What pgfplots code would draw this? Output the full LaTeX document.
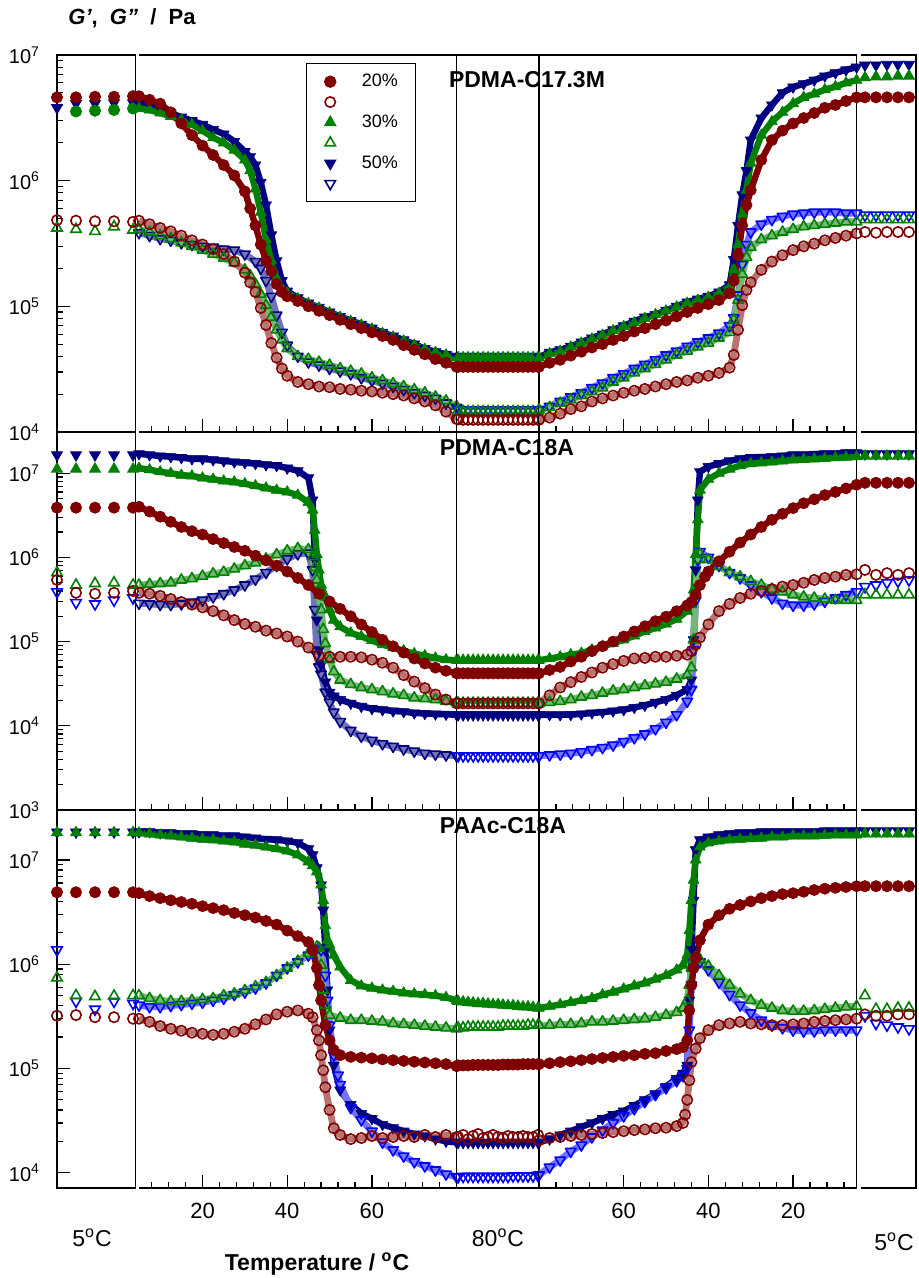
\documentclass[border=0pt]{standalone}
\usepackage{fontspec}
\setmainfont{Liberation Sans}
\usepackage{pgfplots}
\pgfplotsset{compat=1.18}
\definecolor{dred}{RGB}{128,0,0}
\definecolor{dgreen}{RGB}{0,128,0}
\definecolor{dnavy}{RGB}{0,0,128}
\definecolor{lblue}{RGB}{0,0,255}
\pgfplotsset{
  mybase/.style={scale only axis, anchor=south west, axis line style={line width=0.6pt}, tick style={line width=0.6pt, black}, major tick length=6.5pt, minor tick length=3.2pt, tick align=inside, ticklabel style={font=\fontsize{10}{12}\selectfont}},
  noleft/.style={axis line style={draw=none}, after end axis/.code={\draw[line width=0.6pt,black] (rel axis cs:0,0) -- (rel axis cs:1,0) -- (rel axis cs:1,1) -- (rel axis cs:0,1);}},
  mypA/.style={ymin=1e4, ymax=1e7, height=188.5pt},
  mypB/.style={ymin=1e3, ymax=3.09e7, height=189pt},
  mypC/.style={ymin=7.13e3, ymax=2.97e7, height=188.65pt},
  mysegL/.style={mybase, xmin=0, xmax=4.14, width=39.35pt, xmajorticks=false, xminorticks=false, ytick pos=left, yticklabel style={xshift=-5pt}},
  mysegX/.style={mybase, xmin=5, xmax=80, width=158.8pt, ymajorticks=false, yminorticks=false, xtick pos=bottom, xtick={20,40,60}, minor xtick={8,12,16,24,28,32,36,44,48,52,56,64,68,72,76}, xticklabels={}, xticklabel style={font=\fontsize{11}{13}\selectfont, yshift=-4pt}},
  mysegH/.style={mysegX, noleft},
  mysegC/.style={mysegX, x dir=reverse},
  mysegM/.style={mybase, xmin=-0.3, xmax=16.2, width=41.2pt, xmajorticks=false, xminorticks=false, ymajorticks=false, yminorticks=false},
  mysegR/.style={mybase, noleft, xmin=-0.36, xmax=4.64, width=27.5pt, xmajorticks=false, xminorticks=false, ymajorticks=false, yminorticks=false},
  sFRi/.style={only marks, mark=*, mark size=2.8pt, color=dred},
  sFGi/.style={only marks, mark=triangle*, mark size=3.15pt, color=dgreen},
  sFBi/.style={only marks, mark=triangle*, mark size=3.15pt, color=dnavy, mark options={rotate=180}},
  sORi/.style={only marks, mark=o, mark size=2.6pt, color=dred, mark options={line width=0.8pt}},
  sOGi/.style={only marks, mark=triangle, mark size=3pt, color=dgreen, mark options={line width=0.8pt}},
  sOBi/.style={only marks, mark=triangle, mark size=3pt, color=lblue, mark options={rotate=180, line width=0.8pt}},
  sFR/.style={mark=*, mark size=2.8pt, color=dred, line width=3.2pt, line join=round, mark options={line width=0.3pt}},
  sFG/.style={mark=triangle*, mark size=3.15pt, color=dgreen, line width=3.2pt, line join=round, mark options={line width=0.3pt}},
  sFB/.style={mark=triangle*, mark size=3.15pt, color=dnavy, line width=3.2pt, line join=round, mark options={rotate=180, line width=0.3pt}},
  sOR/.style={mark=o, mark size=2.6pt, draw=dred!55, line width=3.4pt, line join=round, mark options={draw=dred, line width=0.8pt}},
  sOG/.style={mark=triangle, mark size=3pt, draw=dgreen!55, line width=3.4pt, line join=round, mark options={draw=dgreen, line width=0.8pt}},
  sOB/.style={mark=triangle, mark size=3pt, draw=lblue!55, line width=3.4pt, line join=round, mark options={rotate=180, draw=lblue, line width=0.8pt}},
  sOBn/.style={mark=triangle, mark size=3pt, draw=dnavy!55, line width=3.4pt, line join=round, mark options={rotate=180, draw=dnavy, line width=0.8pt}},
}
\begin{document}
\begin{tikzpicture}
\path[use as bounding box] (0,0) rectangle (459pt,639pt);
%%%%%%%%%%%%%%%% PANEL 1
\begin{semilogyaxis}[mysegL, mypA, at={(28.5pt,423pt)}, ytick={1e4,1e5,1e6,1e7}, yticklabels={10\textsuperscript{4},10\textsuperscript{5},10\textsuperscript{6},10\textsuperscript{7}}]
\addplot[sFBi] coordinates {(0,3.8e6)(1,4.1e6)(2,4.1e6)(3,4.15e6)(4,4.15e6)};
\addplot[sFRi,color=dgreen] coordinates {(1,3.55e6)(2,3.6e6)(3,3.65e6)(4,3.75e6)};
\addplot[sOGi] coordinates {(0,4.2e5)(1,4.1e5)(2,3.95e5)(3,4.3e5)(4,4.05e5)};
\addplot[sFRi] coordinates {(0,4.6e6)(1,4.6e6)(2,4.65e6)(3,4.65e6)(4,4.7e6)};
\addplot[sORi] coordinates {(0,4.85e5)(1,4.8e5)(2,4.75e5)(3,4.75e5)(4,4.7e5)};
\end{semilogyaxis}
\begin{semilogyaxis}[mysegH, mypA, at={(69.5pt,423pt)},
  legend style={at={(0.526,0.979)}, anchor=north west, draw=black, line width=0.6pt, fill=white, font=\fontsize{9}{9}\selectfont, inner xsep=9pt, inner ysep=4pt, row sep=0pt, column sep=12pt, nodes={inner sep=1pt, text height=6.6pt, text depth=1.6pt, text width=17pt, align=left}}, legend cell align=left]
\addlegendimage{sFRi}\addlegendentry{20\%}
\addlegendimage{sORi}\addlegendentry{~}
\addlegendimage{sFGi}\addlegendentry{30\%}
\addlegendimage{sOGi}\addlegendentry{~}
\addlegendimage{sFBi}\addlegendentry{50\%}
\addlegendimage{sOBi,color=dnavy}\addlegendentry{~}
\addplot[sFB,forget plot] coordinates {(5,4.15e6)(7.5,4.0e6)(10,3.75e6)(12.5,3.45e6)(15,3.2e6)(17.5,3.0e6)(20,2.8e6)(22.5,2.55e6)(25,2.35e6)(27.5,2.05e6)(30,1.7e6)(31.25,1.55e6)(32.5,1.33e6)(33.75,9.7e5)(35,6.4e5)(36.25,3.7e5)(37.5,2.3e5)(38.75,1.6e5)(40,1.32e5)(42.5,1.17e5)(45,1.06e5)(47.5,9.8e4)(50,9.0e4)(52.5,8.3e4)(55,7.7e4)(57.5,7.2e4)(60,6.7e4)(62.5,6.2e4)(65,5.8e4)(67.5,5.4e4)(70,5.0e4)(72.5,4.6e4)(75,4.35e4)(77.5,4.15e4)(80,3.95e4)};
\addplot[sOBn,forget plot] coordinates {(5,3.85e5)(7.5,3.65e5)(10,3.45e5)(12.5,3.35e5)(15,3.2e5)(17.5,3.1e5)(20,3.0e5)(22.5,2.95e5)(25,2.85e5)(27.5,2.8e5)(30,2.6e5)(32.5,2.27e5)(33.75,2.0e5)(35,1.6e5)(36.25,1.2e5)(37.5,8.5e4)(38.75,6.2e4)(40,4.9e4)(42.5,4.0e4)(45,3.6e4)(47.5,3.4e4)(50,3.2e4)(52.5,3.05e4)(55,2.9e4)(57.5,2.7e4)(60,2.57e4)(62.5,2.43e4)(65,2.3e4)(67.5,2.17e4)(70,2.05e4)(72.5,1.95e4)(75,1.85e4)(77.5,1.7e4)(80,1.57e4)};
\addplot[sFG,forget plot] coordinates {(5,3.75e6)(7.5,3.65e6)(10,3.45e6)(12.5,3.25e6)(15,3.05e6)(17.5,2.8e6)(20,2.5e6)(22.5,2.2e6)(25,2.0e6)(27.5,1.75e6)(30,1.46e6)(31.25,1.2e6)(32.5,8.6e5)(33.75,5.6e5)(35,3.4e5)(36.25,2.3e5)(37.5,1.66e5)(38.75,1.38e5)(40,1.28e5)(42.5,1.15e5)(45,1.05e5)(47.5,9.7e4)(50,8.9e4)(52.5,8.2e4)(55,7.6e4)(57.5,7.1e4)(60,6.6e4)(62.5,6.1e4)(65,5.7e4)(67.5,5.3e4)(70,4.9e4)(72.5,4.55e4)(75,4.3e4)(77.5,4.1e4)(80,3.9e4)};
\addplot[sOG,forget plot] coordinates {(5,4.1e5)(7.5,3.9e5)(10,3.65e5)(12.5,3.45e5)(15,3.2e5)(17.5,3.0e5)(20,2.8e5)(22.5,2.6e5)(25,2.42e5)(27.5,2.22e5)(30,1.95e5)(31.25,1.75e5)(32.5,1.5e5)(33.75,1.25e5)(35,1.02e5)(36.25,8.2e4)(37.5,6.5e4)(38.75,5.4e4)(40,4.6e4)(42.5,4.0e4)(45,3.8e4)(47.5,3.6e4)(50,3.4e4)(52.5,3.2e4)(55,3.05e4)(57.5,2.9e4)(60,2.7e4)(62.5,2.57e4)(65,2.43e4)(67.5,2.3e4)(70,2.17e4)(72.5,2.05e4)(75,1.9e4)(77.5,1.77e4)(80,1.6e4)};
\addplot[sFR,forget plot] coordinates {(5,4.7e6)(7.5,4.4e6)(10,4.1e6)(12.5,3.5e6)(15,2.85e6)(17.5,2.3e6)(20,1.9e6)(22.5,1.6e6)(25,1.33e6)(27.5,1.1e6)(30,8.2e5)(31.25,6.0e5)(32.5,4.4e5)(33.75,3.1e5)(35,2.3e5)(36.25,1.9e5)(37.5,1.5e5)(38.75,1.3e5)(40,1.2e5)(42.5,1.1e5)(45,1.0e5)(47.5,9.2e4)(50,8.5e4)(52.5,7.8e4)(55,7.2e4)(57.5,6.7e4)(60,6.2e4)(62.5,5.8e4)(65,5.4e4)(67.5,4.9e4)(70,4.5e4)(72.5,4.15e4)(75,3.8e4)(77.5,3.55e4)(80,3.3e4)};
\addplot[sOR,forget plot] coordinates {(5,4.8e5)(7.5,4.5e5)(10,4.2e5)(12.5,3.95e5)(15,3.65e5)(17.5,3.35e5)(20,3.1e5)(22.5,2.85e5)(25,2.6e5)(27.5,2.27e5)(30,1.85e5)(31.25,1.55e5)(32.5,1.3e5)(33.75,9.7e4)(35,7.1e4)(36.25,5.1e4)(37.5,3.9e4)(38.75,3.2e4)(40,2.8e4)(42.5,2.5e4)(45,2.4e4)(47.5,2.3e4)(50,2.27e4)(52.5,2.2e4)(55,2.17e4)(57.5,2.13e4)(60,2.1e4)(62.5,2.05e4)(65,2.0e4)(67.5,1.95e4)(70,1.85e4)(72.5,1.75e4)(75,1.63e4)(77.5,1.45e4)(80,1.27e4)};
\end{semilogyaxis}
\begin{semilogyaxis}[mysegM, mypA, at={(228.3pt,423pt)}]
\addplot[sFBi] coordinates {(0,4.0e4)(1,4.0e4)(2,4.0e4)(3,4.0e4)(4,4.0e4)(5,4.0e4)(6,4.0e4)(7,4.0e4)(8,4.0e4)(9,4.0e4)(10,4.0e4)(11,4.0e4)(12,4.0e4)(13,4.0e4)(14,4.0e4)(15,4.0e4)(16,4.0e4)};
\addplot[sOBi] coordinates {(0,1.52e4)(1,1.5e4)(2,1.5e4)(3,1.5e4)(4,1.5e4)(5,1.5e4)(6,1.5e4)(7,1.5e4)(8,1.5e4)(9,1.5e4)(10,1.5e4)(11,1.5e4)(12,1.5e4)(13,1.5e4)(14,1.5e4)(15,1.5e4)(16,1.5e4)};
\addplot[sFGi] coordinates {(0,3.9e4)(1,3.9e4)(2,3.9e4)(3,3.9e4)(4,3.9e4)(5,3.9e4)(6,3.9e4)(7,3.9e4)(8,3.9e4)(9,3.9e4)(10,3.9e4)(11,3.9e4)(12,3.9e4)(13,3.9e4)(14,3.9e4)(15,3.9e4)(16,3.9e4)};
\addplot[sOGi] coordinates {(0,1.48e4)(1,1.45e4)(2,1.45e4)(3,1.45e4)(4,1.45e4)(5,1.45e4)(6,1.45e4)(7,1.45e4)(8,1.45e4)(9,1.45e4)(10,1.45e4)(11,1.45e4)(12,1.45e4)(13,1.45e4)(14,1.45e4)(15,1.45e4)(16,1.45e4)};
\addplot[sFRi] coordinates {(0,3.3e4)(1,3.3e4)(2,3.3e4)(3,3.3e4)(4,3.3e4)(5,3.3e4)(6,3.3e4)(7,3.3e4)(8,3.3e4)(9,3.3e4)(10,3.3e4)(11,3.3e4)(12,3.3e4)(13,3.3e4)(14,3.3e4)(15,3.3e4)(16,3.3e4)};
\addplot[sORi] coordinates {(0,1.26e4)(1,1.25e4)(2,1.25e4)(3,1.25e4)(4,1.25e4)(5,1.25e4)(6,1.25e4)(7,1.25e4)(8,1.25e4)(9,1.25e4)(10,1.25e4)(11,1.25e4)(12,1.25e4)(13,1.25e4)(14,1.25e4)(15,1.25e4)(16,1.25e4)};
\end{semilogyaxis}
\begin{semilogyaxis}[mysegC, mypA, at={(269.5pt,423pt)}]
\addplot[sFB] coordinates {(80,3.95e4)(77.5,4.3e4)(75,4.5e4)(72.5,4.8e4)(70,5.2e4)(67.5,5.6e4)(65,6.0e4)(62.5,6.5e4)(60,7.0e4)(57.5,7.6e4)(55,8.2e4)(52.5,8.6e4)(50,9.3e4)(47.5,1.0e5)(45,1.08e5)(42.5,1.14e5)(40,1.2e5)(37.5,1.3e5)(35,1.48e5)(34,2.35e5)(33,4.4e5)(32,7.7e5)(31,1.2e6)(30,2.1e6)(27.5,3.15e6)(25,4.0e6)(22.5,5.0e6)(20,5.55e6)(17.5,5.9e6)(15,6.3e6)(12.5,6.8e6)(10,7.2e6)(7.5,7.6e6)(5,8.0e6)};
\addplot[sOB] coordinates {(80,1.5e4)(77.5,1.6e4)(75,1.75e4)(72.5,1.9e4)(70,2.05e4)(67.5,2.25e4)(65,2.45e4)(62.5,2.7e4)(60,2.9e4)(57.5,3.2e4)(55,3.45e4)(52.5,3.75e4)(50,4.1e4)(47.5,4.4e4)(45,4.8e4)(42.5,5.2e4)(40,5.6e4)(37.5,6.1e4)(35,7.0e4)(34,8.1e4)(33,1.23e5)(32,2.15e5)(31,3.1e5)(30,3.9e5)(27.5,4.5e5)(25,4.9e5)(22.5,5.2e5)(20,5.4e5)(17.5,5.5e5)(15,5.6e5)(12.5,5.6e5)(10,5.6e5)(7.5,5.5e5)(5,5.5e5)};
\addplot[sFG] coordinates {(80,3.9e4)(77.5,4.2e4)(75,4.4e4)(72.5,4.75e4)(70,5.1e4)(67.5,5.5e4)(65,5.9e4)(62.5,6.4e4)(60,6.9e4)(57.5,7.4e4)(55,8.0e4)(52.5,8.6e4)(50,9.2e4)(47.5,9.9e4)(45,1.06e5)(42.5,1.12e5)(40,1.18e5)(37.5,1.27e5)(35,1.42e5)(34,1.95e5)(33,3.1e5)(32,5.4e5)(31,8.4e5)(30,1.38e6)(27.5,2.3e6)(25,2.95e6)(22.5,3.5e6)(20,4.1e6)(17.5,4.6e6)(15,4.9e6)(12.5,5.3e6)(10,5.6e6)(7.5,6.0e6)(5,6.3e6)};
\addplot[sOG] coordinates {(80,1.5e4)(77.5,1.57e4)(75,1.7e4)(72.5,1.8e4)(70,1.95e4)(67.5,2.1e4)(65,2.25e4)(62.5,2.5e4)(60,2.7e4)(57.5,2.95e4)(55,3.2e4)(52.5,3.45e4)(50,3.75e4)(47.5,4.1e4)(45,4.4e4)(42.5,4.75e4)(40,5.1e4)(37.5,5.6e4)(35,6.2e4)(34,7.8e4)(33,1.12e5)(32,1.8e5)(31,2.45e5)(30,2.95e5)(27.5,3.4e5)(25,3.65e5)(22.5,3.9e5)(20,4.1e5)(17.5,4.3e5)(15,4.4e5)(12.5,4.5e5)(10,4.6e5)(7.5,4.7e5)(5,4.7e5)};
\addplot[sFR] coordinates {(80,3.3e4)(77.5,3.55e4)(75,3.75e4)(72.5,4.05e4)(70,4.35e4)(67.5,4.7e4)(65,5.0e4)(62.5,5.4e4)(60,5.8e4)(57.5,6.3e4)(55,6.7e4)(52.5,7.2e4)(50,7.7e4)(47.5,8.3e4)(45,9.0e4)(42.5,9.7e4)(40,1.04e5)(37.5,1.12e5)(35,1.27e5)(34,1.6e5)(33,2.55e5)(32,4.4e5)(31,6.4e5)(30,8.4e5)(27.5,1.46e6)(25,2.1e6)(22.5,2.5e6)(20,2.85e6)(17.5,3.15e6)(15,3.45e6)(12.5,3.8e6)(10,4.0e6)(7.5,4.3e6)(5,4.6e6)};
\addplot[sOR] coordinates {(80,1.25e4)(77.5,1.3e4)(75,1.4e4)(72.5,1.52e4)(70,1.6e4)(67.5,1.75e4)(65,1.85e4)(62.5,1.95e4)(60,2.05e4)(57.5,2.13e4)(55,2.2e4)(52.5,2.3e4)(50,2.4e4)(47.5,2.5e4)(45,2.57e4)(42.5,2.7e4)(40,2.8e4)(37.5,2.95e4)(35,3.25e4)(34,4.1e4)(33,6.5e4)(32,1.02e5)(31,1.35e5)(30,1.55e5)(27.5,1.95e5)(25,2.27e5)(22.5,2.55e5)(20,2.8e5)(17.5,3.0e5)(15,3.15e5)(12.5,3.35e5)(10,3.5e5)(7.5,3.65e5)(5,3.8e5)};
\end{semilogyaxis}
\begin{semilogyaxis}[mysegR, mypA, at={(430.5pt,423pt)}]
\addplot[sFBi] coordinates {(0,8.3e6)(1,8.3e6)(2,8.4e6)(3,8.4e6)(4,8.4e6)};
\addplot[sOBi] coordinates {(0,5.3e5)(1,5.3e5)(2,5.3e5)(3,5.3e5)(4,5.3e5)};
\addplot[sFGi] coordinates {(0,6.6e6)(1,6.7e6)(2,6.7e6)(3,6.8e6)(4,6.8e6)};
\addplot[sOGi] coordinates {(0,4.9e5)(1,4.9e5)(2,4.9e5)(3,4.9e5)(4,4.9e5)};
\addplot[sFRi] coordinates {(0,4.6e6)(1,4.6e6)(2,4.6e6)(3,4.6e6)(4,4.6e6)};
\addplot[sORi] coordinates {(0,3.9e5)(1,3.85e5)(2,3.9e5)(3,3.9e5)(4,3.9e5)};
\end{semilogyaxis}
%%%%%%%%%%%%%%%% PANEL 2
\begin{semilogyaxis}[mysegL, mypB, at={(28.5pt,234pt)}, ytick={1e3,1e4,1e5,1e6,1e7}, yticklabels={10\textsuperscript{3},10\textsuperscript{4},10\textsuperscript{5},10\textsuperscript{6},10\textsuperscript{7}}]
\addplot[sFBi] coordinates {(0,1.65e7)(1,1.65e7)(2,1.65e7)(3,1.65e7)(4,1.65e7)};
\addplot[sOBi] coordinates {(0,3.9e5)(1,2.9e5)(2,2.8e5)(3,3.1e5)(4,3.3e5)};
\addplot[sFGi] coordinates {(0,1.12e7)(1,1.12e7)(2,1.12e7)(3,1.12e7)(4,1.12e7)};
\addplot[sOGi] coordinates {(0,6.6e5)(1,4.7e5)(2,4.9e5)(3,5.0e5)(4,4.7e5)};
\addplot[sFRi] coordinates {(0,3.9e6)(1,3.9e6)(2,3.9e6)(3,3.9e6)(4,3.9e6)};
\addplot[sORi] coordinates {(0,5.4e5)(1,3.8e5)(2,3.7e5)(3,3.8e5)(4,4.0e5)};
\end{semilogyaxis}
\begin{semilogyaxis}[mysegH, mypB, at={(69.5pt,234pt)}]
\addplot[sFB] coordinates {(5,1.7e7)(7.5,1.65e7)(10,1.6e7)(12.5,1.57e7)(15,1.53e7)(17.5,1.48e7)(20,1.48e7)(22.5,1.44e7)(25,1.4e7)(27.5,1.36e7)(30,1.33e7)(32.5,1.3e7)(35,1.26e7)(37.5,1.23e7)(40,1.15e7)(42.5,1.07e7)(45,8.8e6)(46,4.8e6)(46.5,9.4e5)(47,1.8e5)(47.5,8.0e4)(48,5.3e4)(49,3.3e4)(50,2.5e4)(51,2.25e4)(52.5,2.05e4)(55,1.85e4)(57.5,1.7e4)(60,1.6e4)(62.5,1.55e4)(65,1.5e4)(67.5,1.47e4)(70,1.42e4)(72.5,1.4e4)(75,1.38e4)(77.5,1.37e4)(80,1.35e4)};
\addplot[sOBn] coordinates {(5,2.85e5)(7.5,2.8e5)(10,2.75e5)(12.5,2.75e5)(15,2.8e5)(17.5,2.95e5)(20,3.1e5)(22.5,3.4e5)(25,3.7e5)(27.5,4.1e5)(30,4.7e5)(32.5,5.5e5)(35,6.6e5)(37.5,8.0e5)(40,9.6e5)(42.5,1.1e6)(45,1.12e6)(46,7.1e5)(46.5,2.4e5)(47,7.0e4)(47.5,5.0e4)(48,4.1e4)(49,2.5e4)(50,1.9e4)(51,1.45e4)(52.5,1.12e4)(55,8.8e3)(57.5,7.5e3)(60,6.7e3)(62.5,6.1e3)(65,5.7e3)(67.5,5.3e3)(70,5.0e3)(72.5,4.7e3)(75,4.6e3)(77.5,4.5e3)(80,4.4e3)};
\addplot[sFG] coordinates {(5,1.15e7)(7.5,1.1e7)(10,1.04e7)(12.5,1.0e7)(15,9.5e6)(17.5,9.3e6)(20,8.8e6)(22.5,8.5e6)(25,8.1e6)(27.5,7.9e6)(30,7.5e6)(32.5,7.1e6)(35,6.7e6)(37.5,6.3e6)(40,6.0e6)(42.5,5.5e6)(45,4.5e6)(46,3.65e6)(46.5,2.1e6)(47,1.08e6)(47.5,7.1e5)(48,4.7e5)(49,3.4e5)(50,2.4e5)(51,1.8e5)(52.5,1.5e5)(55,1.27e5)(57.5,1.15e5)(60,1.03e5)(62.5,9.2e4)(65,8.5e4)(67.5,7.8e4)(70,7.2e4)(72.5,6.8e4)(75,6.4e4)(77.5,6.1e4)(80,6.0e4)};
\addplot[sOG] coordinates {(5,4.7e5)(7.5,4.8e5)(10,4.9e5)(12.5,5.0e5)(15,5.4e5)(17.5,5.6e5)(20,6.0e5)(22.5,6.4e5)(25,6.7e5)(27.5,7.3e5)(30,8.0e5)(32.5,8.6e5)(35,9.6e5)(37.5,1.08e6)(40,1.2e6)(42.5,1.28e6)(45,1.24e6)(46,1.02e6)(46.5,7.6e5)(47,5.4e5)(47.5,3.6e5)(48,2.4e5)(48.5,1.4e5)(49,9.5e4)(50,6.1e4)(51,4.4e4)(52.5,3.5e4)(55,3.1e4)(57.5,2.85e4)(60,2.7e4)(62.5,2.55e4)(65,2.4e4)(67.5,2.3e4)(70,2.15e4)(72.5,2.1e4)(75,2.05e4)(77.5,1.95e4)(80,1.9e4)};
\addplot[sFR] coordinates {(5,4.0e6)(7.5,3.5e6)(10,3.05e6)(12.5,2.65e6)(15,2.3e6)(17.5,2.05e6)(20,1.87e6)(22.5,1.65e6)(25,1.48e6)(27.5,1.33e6)(30,1.2e6)(32.5,1.05e6)(35,9.2e5)(37.5,8.0e5)(40,6.8e5)(42.5,5.7e5)(45,4.7e5)(47.5,3.7e5)(50,3.0e5)(52.5,2.45e5)(55,2.0e5)(57.5,1.6e5)(60,1.3e5)(62.5,1.05e5)(65,8.8e4)(67.5,7.4e4)(70,6.3e4)(72.5,5.5e4)(75,4.9e4)(77.5,4.5e4)(80,4.2e4)};
\addplot[sOR] coordinates {(5,3.8e5)(7.5,3.7e5)(10,3.5e5)(12.5,3.2e5)(15,2.95e5)(17.5,2.75e5)(20,2.55e5)(22.5,2.3e5)(25,2.05e5)(27.5,1.8e5)(30,1.62e5)(32.5,1.5e5)(35,1.35e5)(37.5,1.25e5)(40,1.15e5)(42.5,1.0e5)(45,8.5e4)(47.5,6.8e4)(50,6.6e4)(52.5,6.6e4)(55,6.6e4)(57.5,6.5e4)(60,6.1e4)(62.5,5.6e4)(65,4.9e4)(67.5,4.0e4)(70,3.35e4)(72.5,2.8e4)(75,2.35e4)(77.5,2.05e4)(80,1.85e4)};
\end{semilogyaxis}
\begin{semilogyaxis}[mysegM, mypB, at={(228.3pt,234pt)}]
\addplot[sFBi] coordinates {(0,1.35e4)(1,1.35e4)(2,1.35e4)(3,1.35e4)(4,1.35e4)(5,1.35e4)(6,1.35e4)(7,1.35e4)(8,1.35e4)(9,1.35e4)(10,1.35e4)(11,1.35e4)(12,1.35e4)(13,1.35e4)(14,1.35e4)(15,1.35e4)(16,1.35e4)};
\addplot[sOBi] coordinates {(0,4.4e3)(1,4.4e3)(2,4.4e3)(3,4.4e3)(4,4.4e3)(5,4.4e3)(6,4.4e3)(7,4.4e3)(8,4.4e3)(9,4.4e3)(10,4.4e3)(11,4.4e3)(12,4.4e3)(13,4.4e3)(14,4.4e3)(15,4.4e3)(16,4.4e3)};
\addplot[sFGi] coordinates {(0,6.0e4)(1,6.0e4)(2,6.0e4)(3,6.0e4)(4,6.0e4)(5,6.0e4)(6,6.0e4)(7,6.0e4)(8,6.0e4)(9,6.0e4)(10,6.0e4)(11,6.0e4)(12,6.0e4)(13,6.0e4)(14,6.0e4)(15,6.0e4)(16,6.0e4)};
\addplot[sOGi] coordinates {(0,1.85e4)(1,1.85e4)(2,1.85e4)(3,1.85e4)(4,1.85e4)(5,1.85e4)(6,1.85e4)(7,1.85e4)(8,1.85e4)(9,1.85e4)(10,1.85e4)(11,1.85e4)(12,1.85e4)(13,1.85e4)(14,1.85e4)(15,1.85e4)(16,1.85e4)};
\addplot[sFRi] coordinates {(0,4.2e4)(1,4.2e4)(2,4.2e4)(3,4.2e4)(4,4.2e4)(5,4.2e4)(6,4.2e4)(7,4.2e4)(8,4.2e4)(9,4.2e4)(10,4.2e4)(11,4.2e4)(12,4.2e4)(13,4.2e4)(14,4.2e4)(15,4.2e4)(16,4.2e4)};
\addplot[sORi] coordinates {(0,1.85e4)(1,1.85e4)(2,1.85e4)(3,1.85e4)(4,1.85e4)(5,1.85e4)(6,1.85e4)(7,1.85e4)(8,1.85e4)(9,1.85e4)(10,1.85e4)(11,1.85e4)(12,1.85e4)(13,1.85e4)(14,1.85e4)(15,1.85e4)(16,1.85e4)};
\end{semilogyaxis}
\begin{semilogyaxis}[mysegC, mypB, at={(269.5pt,234pt)}]
\addplot[sFB] coordinates {(80,1.35e4)(77.5,1.35e4)(75,1.35e4)(72.5,1.36e4)(70,1.38e4)(67.5,1.42e4)(65,1.45e4)(62.5,1.5e4)(60,1.55e4)(57.5,1.65e4)(55,1.75e4)(52.5,1.9e4)(50,2.05e4)(47.5,2.3e4)(45,2.7e4)(44,3.5e4)(43.5,1.05e5)(43,7.1e5)(42.5,4.8e6)(42,1.04e7)(40,1.2e7)(37.5,1.3e7)(35,1.4e7)(32.5,1.48e7)(30,1.53e7)(27.5,1.55e7)(25,1.57e7)(22.5,1.6e7)(20,1.65e7)(17.5,1.65e7)(15,1.68e7)(12.5,1.7e7)(10,1.7e7)(7.5,1.75e7)(5,1.75e7)};
\addplot[sOB] coordinates {(80,4.4e3)(77.5,4.5e3)(75,4.6e3)(72.5,4.7e3)(70,4.9e3)(67.5,5.2e3)(65,5.5e3)(62.5,5.9e3)(60,6.5e3)(57.5,7.2e3)(55,8.0e3)(52.5,9.2e3)(50,1.1e4)(47.5,1.35e4)(45,1.95e4)(44,2.7e4)(43.5,8.0e4)(43,3.1e5)(42.5,9.4e5)(42,1.17e6)(40,1.0e6)(37.5,8.0e5)(35,6.6e5)(32.5,5.7e5)(30,4.7e5)(27.5,3.9e5)(25,3.3e5)(22.5,2.85e5)(20,2.7e5)(17.5,2.7e5)(15,2.8e5)(12.5,3.0e5)(10,3.3e5)(7.5,3.6e5)(5,3.9e5)};
\addplot[sFG] coordinates {(80,6.0e4)(77.5,6.3e4)(75,6.6e4)(72.5,7.0e4)(70,7.3e4)(67.5,8.0e4)(65,8.8e4)(62.5,9.5e4)(60,1.05e5)(57.5,1.17e5)(55,1.32e5)(52.5,1.45e5)(50,1.62e5)(47.5,1.85e5)(45,2.3e5)(44,2.75e5)(43.5,4.1e5)(43,1.08e6)(42.5,2.8e6)(42,6.3e6)(40,8.5e6)(37.5,1.0e7)(35,1.12e7)(32.5,1.23e7)(30,1.3e7)(27.5,1.33e7)(25,1.36e7)(22.5,1.4e7)(20,1.44e7)(17.5,1.46e7)(15,1.48e7)(12.5,1.5e7)(10,1.53e7)(7.5,1.55e7)(5,1.57e7)};
\addplot[sOG] coordinates {(80,1.85e4)(77.5,1.9e4)(75,1.95e4)(72.5,2.05e4)(70,2.2e4)(67.5,2.3e4)(65,2.45e4)(62.5,2.6e4)(60,2.7e4)(57.5,2.85e4)(55,3.0e4)(52.5,3.15e4)(50,3.3e4)(47.5,3.6e4)(45,4.0e4)(44,4.9e4)(43.5,1.05e5)(43,3.6e5)(42.5,9.4e5)(42,1.1e6)(40,9.4e5)(37.5,7.8e5)(35,6.6e5)(32.5,5.9e5)(30,5.2e5)(27.5,4.7e5)(25,4.2e5)(22.5,3.9e5)(20,3.6e5)(17.5,3.4e5)(15,3.3e5)(12.5,3.2e5)(10,3.1e5)(7.5,3.1e5)(5,3.1e5)};
\addplot[sFR] coordinates {(80,4.2e4)(77.5,4.6e4)(75,5.0e4)(72.5,5.8e4)(70,6.6e4)(67.5,7.7e4)(65,8.8e4)(62.5,1.0e5)(60,1.15e5)(57.5,1.32e5)(55,1.52e5)(52.5,1.75e5)(50,1.98e5)(47.5,2.3e5)(45,2.7e5)(44,2.95e5)(43,3.6e5)(42,4.7e5)(40.8,5.9e5)(40,6.8e5)(37.5,9.0e5)(35,1.17e6)(32.5,1.5e6)(30,1.87e6)(27.5,2.3e6)(25,2.8e6)(22.5,3.3e6)(20,3.85e6)(17.5,4.4e6)(15,4.9e6)(12.5,5.5e6)(10,6.0e6)(7.5,6.6e6)(5,7.3e6)};
\addplot[sOR] coordinates {(80,1.85e4)(77.5,2.3e4)(75,2.85e4)(72.5,3.3e4)(70,3.8e4)(67.5,4.3e4)(65,4.9e4)(62.5,5.4e4)(60,5.9e4)(57.5,6.3e4)(55,6.4e4)(52.5,6.6e4)(50,6.6e4)(47.5,6.8e4)(45,7.0e4)(44,7.7e4)(43,9.2e4)(42,1.12e5)(40,1.6e5)(37.5,2.3e5)(35,2.8e5)(32.5,3.3e5)(30,3.7e5)(27.5,4.0e5)(25,4.2e5)(22.5,4.5e5)(20,4.7e5)(17.5,5.0e5)(15,5.4e5)(12.5,5.7e5)(10,5.9e5)(7.5,6.2e5)(5,6.3e5)};
\end{semilogyaxis}
\begin{semilogyaxis}[mysegR, mypB, at={(430.5pt,234pt)}]
\addplot[sFBi] coordinates {(0,1.7e7)(1,1.7e7)(2,1.7e7)(3,1.7e7)(4,1.7e7)};
\addplot[sOBi] coordinates {(0,4.5e5)(1,4.7e5)(2,5.0e5)(3,5.2e5)(4,5.4e5)};
\addplot[sFGi] coordinates {(0,1.6e7)(1,1.6e7)(2,1.6e7)(3,1.6e7)(4,1.6e7)};
\addplot[sOGi] coordinates {(0,3.6e5)(1,3.6e5)(2,3.6e5)(3,3.6e5)(4,3.6e5)};
\addplot[sFRi] coordinates {(0,7.7e6)(1,7.7e6)(2,7.7e6)(3,7.7e6)(4,7.7e6)};
\addplot[sORi] coordinates {(0,7.1e5)(1,6.2e5)(2,6.5e5)(3,6.2e5)(4,6.5e5)};
\end{semilogyaxis}
%%%%%%%%%%%%%%%% PANEL 3
\begin{semilogyaxis}[mysegL, mypC, at={(28.5pt,45pt)}, ytick={1e4,1e5,1e6,1e7}, yticklabels={10\textsuperscript{4},10\textsuperscript{5},10\textsuperscript{6},10\textsuperscript{7}}]
\addplot[sFBi] coordinates {(0,1.85e7)(1,1.85e7)(2,1.85e7)(3,1.85e7)(4,1.85e7)};
\addplot[sOBi] coordinates {(0,1.37e6)(1,4.4e5)(2,3.7e5)(3,4.4e5)(4,4.2e5)};
\addplot[sFGi] coordinates {(0,1.83e7)(1,1.83e7)(2,1.83e7)(3,1.83e7)(4,1.83e7)};
\addplot[sOGi] coordinates {(0,7.4e5)(1,5.0e5)(2,4.9e5)(3,4.95e5)(4,5.0e5)};
\addplot[sFRi] coordinates {(0,4.9e6)(1,4.9e6)(2,4.9e6)(3,4.9e6)(4,4.9e6)};
\addplot[sORi] coordinates {(0,3.2e5)(1,3.25e5)(2,3.1e5)(3,3.1e5)(4,3.0e5)};
\end{semilogyaxis}
\begin{semilogyaxis}[mysegH, mypC, at={(69.5pt,45pt)}, xticklabels={20,40,60}]
\addplot[sFB] coordinates {(5,1.86e7)(7.5,1.86e7)(10,1.82e7)(12.5,1.82e7)(15,1.78e7)(17.5,1.78e7)(20,1.74e7)(22.5,1.74e7)(25,1.7e7)(27.5,1.7e7)(30,1.66e7)(32.5,1.62e7)(35,1.58e7)(37.5,1.56e7)(40,1.52e7)(42.5,1.46e7)(45,1.28e7)(46,1.12e7)(47,8.4e6)(48,5.75e6)(48.5,3.3e6)(49,1.37e6)(49.5,5.65e5)(50,2.33e5)(51,1.07e5)(52.5,6.2e4)(55,4.5e4)(57.5,3.7e4)(60,3.3e4)(62.5,2.9e4)(65,2.7e4)(67.5,2.5e4)(70,2.35e4)(72.5,2.25e4)(75,2.1e4)(77.5,2.0e4)(80,1.95e4)};
\addplot[sOB] coordinates {(5,4.05e5)(7.5,3.9e5)(10,3.9e5)(12.5,4.0e5)(15,4.1e5)(17.5,4.2e5)(20,4.3e5)(22.5,4.5e5)(25,4.7e5)(27.5,5.1e5)(30,5.4e5)(32.5,5.9e5)(35,6.6e5)(37.5,7.8e5)(40,9.2e5)(42.5,1.05e6)(45,1.22e6)(46,1.3e6)(47,1.43e6)(48,1.37e6)(49,7.8e5)(49.5,4.5e5)(50,2.6e5)(51,1.34e5)(52,8.6e4)(52.5,7.0e4)(55,4.2e4)(57.5,3.2e4)(60,2.5e4)(62.5,1.96e4)(65,1.65e4)(67.5,1.44e4)(70,1.27e4)(72.5,1.16e4)(75,1.06e4)(77.5,9.7e3)(80,9.1e3)};
\addplot[sFG] coordinates {(5,1.82e7)(7.5,1.78e7)(10,1.74e7)(12.5,1.7e7)(15,1.66e7)(17.5,1.62e7)(20,1.58e7)(22.5,1.56e7)(25,1.52e7)(27.5,1.49e7)(30,1.42e7)(32.5,1.39e7)(35,1.33e7)(37.5,1.28e7)(40,1.22e7)(42.5,1.12e7)(45,9.6e6)(46,8.8e6)(47,7.7e6)(48,5.75e6)(48.5,4.1e6)(49,2.35e6)(49.5,1.7e6)(50,1.53e6)(51,1.22e6)(52.5,9.4e5)(55,7.0e5)(57.5,6.2e5)(60,5.9e5)(62.5,5.65e5)(65,5.5e5)(67.5,5.3e5)(70,5.2e5)(72.5,5.1e5)(75,5.0e5)(77.5,4.8e5)(80,4.5e5)};
\addplot[sOG] coordinates {(5,5.0e5)(7.5,4.7e5)(10,4.5e5)(12.5,4.4e5)(15,4.4e5)(17.5,4.5e5)(20,4.6e5)(22.5,4.7e5)(25,5.0e5)(27.5,5.2e5)(30,5.6e5)(32.5,6.1e5)(35,6.7e5)(37.5,7.8e5)(40,9.2e5)(42.5,1.07e6)(45,1.27e6)(46,1.37e6)(47,1.47e6)(47.5,1.43e6)(48,9.8e5)(48.5,5.65e5)(49,4.05e5)(50,3.25e5)(52.5,3.05e5)(55,2.9e5)(57.5,2.9e5)(60,2.85e5)(62.5,2.8e5)(65,2.7e5)(67.5,2.65e5)(70,2.6e5)(72.5,2.55e5)(75,2.5e5)(77.5,2.45e5)(80,2.4e5)};
\addplot[sFR] coordinates {(5,4.8e6)(7.5,4.5e6)(10,4.3e6)(12.5,4.1e6)(15,3.95e6)(17.5,3.8e6)(20,3.6e6)(22.5,3.45e6)(25,3.3e6)(27.5,3.1e6)(30,2.95e6)(32.5,2.8e6)(35,2.6e6)(37.5,2.4e6)(40,2.1e6)(42.5,1.86e6)(45,1.63e6)(46,1.37e6)(47,9.2e5)(47.5,6.3e5)(48,4.5e5)(49,2.6e5)(50,1.86e5)(51,1.5e5)(52.5,1.34e5)(55,1.29e5)(57.5,1.27e5)(60,1.25e5)(62.5,1.22e5)(65,1.2e5)(67.5,1.18e5)(70,1.16e5)(72.5,1.14e5)(75,1.12e5)(77.5,1.1e5)(80,1.05e5)};
\addplot[sOR] coordinates {(5,3.0e5)(7.5,2.8e5)(10,2.55e5)(12.5,2.4e5)(15,2.3e5)(17.5,2.2e5)(20,2.15e5)(22.5,2.1e5)(25,2.15e5)(27.5,2.25e5)(30,2.4e5)(32.5,2.65e5)(35,2.95e5)(37.5,3.3e5)(40,3.5e5)(42.5,3.6e5)(45,3.35e5)(46,3.1e5)(47,2.33e5)(47.5,1.86e5)(48,1.34e5)(48.5,9.6e4)(49,6.6e4)(50,4.0e4)(51,2.67e4)(52.5,2.3e4)(55,2.1e4)(57.5,2.15e4)(60,2.25e4)(62.5,2.15e4)(65,2.2e4)(67.5,2.25e4)(70,2.2e4)(72.5,2.3e4)(75,2.2e4)(77.5,2.3e4)(80,2.2e4)};
\end{semilogyaxis}
\begin{semilogyaxis}[mysegM, mypC, at={(228.3pt,45pt)}]
\addplot[sFBi] coordinates {(0,1.95e4)(1,1.95e4)(2,1.95e4)(3,1.95e4)(4,1.95e4)(5,1.95e4)(6,1.95e4)(7,1.95e4)(8,1.95e4)(9,1.95e4)(10,1.95e4)(11,1.95e4)(12,1.95e4)(13,1.95e4)(14,1.95e4)(15,1.95e4)(16,1.95e4)};
\addplot[sOBi] coordinates {(0,9.1e3)(1,9.2e3)(2,9.2e3)(3,9.2e3)(4,9.2e3)(5,9.2e3)(6,9.2e3)(7,9.2e3)(8,9.2e3)(9,9.2e3)(10,9.2e3)(11,9.3e3)(12,9.3e3)(13,9.3e3)(14,9.3e3)(15,9.3e3)(16,9.4e3)};
\addplot[sFGi] coordinates {(0,4.4e5)(1,4.35e5)(2,4.3e5)(3,4.25e5)(4,4.2e5)(5,4.2e5)(6,4.15e5)(7,4.1e5)(8,4.1e5)(9,4.05e5)(10,4.0e5)(11,4.0e5)(12,3.95e5)(13,3.9e5)(14,3.9e5)(15,3.85e5)(16,3.8e5)};
\addplot[sOGi] coordinates {(0,2.45e5)(1,2.45e5)(2,2.5e5)(3,2.5e5)(4,2.5e5)(5,2.5e5)(6,2.5e5)(7,2.5e5)(8,2.5e5)(9,2.55e5)(10,2.55e5)(11,2.55e5)(12,2.55e5)(13,2.55e5)(14,2.6e5)(15,2.6e5)(16,2.6e5)};
\addplot[sFRi] coordinates {(0,1.07e5)(1,1.07e5)(2,1.07e5)(3,1.08e5)(4,1.08e5)(5,1.08e5)(6,1.08e5)(7,1.08e5)(8,1.08e5)(9,1.09e5)(10,1.09e5)(11,1.09e5)(12,1.09e5)(13,1.1e5)(14,1.1e5)(15,1.1e5)(16,1.1e5)};
\addplot[sORi] coordinates {(0,2.2e4)(1,2.3e4)(2,2.1e4)(3,2.25e4)(4,2.35e4)(5,2.15e4)(6,2.2e4)(7,2.3e4)(8,2.2e4)(9,2.15e4)(10,2.25e4)(11,2.2e4)(12,2.2e4)(13,2.25e4)(14,2.2e4)(15,2.2e4)(16,2.3e4)};
\end{semilogyaxis}
\begin{semilogyaxis}[mysegC, mypC, at={(269.5pt,45pt)}, xticklabels={20,40,60}]
\addplot[sFB] coordinates {(80,1.95e4)(77.5,2.1e4)(75,2.3e4)(72.5,2.5e4)(70,2.75e4)(67.5,3.0e4)(65,3.3e4)(62.5,3.6e4)(60,3.9e4)(57.5,4.4e4)(55,5.0e4)(52.5,5.7e4)(50,6.7e4)(47.5,8.0e4)(46,9.0e4)(45,1.07e5)(44.5,4.5e5)(44,1.37e6)(43.5,4.1e6)(43,1.25e7)(42,1.56e7)(40,1.66e7)(37.5,1.74e7)(35,1.78e7)(32.5,1.82e7)(30,1.82e7)(27.5,1.86e7)(25,1.86e7)(22.5,1.86e7)(20,1.86e7)(17.5,1.86e7)(15,1.86e7)(12.5,1.9e7)(10,1.9e7)(7.5,1.9e7)(5,1.9e7)};
\addplot[sOB] coordinates {(80,9.5e3)(77.5,1.13e4)(75,1.32e4)(72.5,1.6e4)(70,1.84e4)(67.5,2.2e4)(65,2.56e4)(62.5,3.0e4)(60,3.5e4)(57.5,4.1e4)(55,4.8e4)(52.5,5.6e4)(50,6.5e4)(47.5,7.6e4)(46,8.5e4)(45,1.0e5)(44.5,2.33e5)(44,6.3e5)(43.5,1.05e6)(43,1.15e6)(42,1.05e6)(40,8.8e5)(37.5,6.7e5)(35,5.1e5)(32.5,4.05e5)(30,3.4e5)(27.5,2.9e5)(25,2.6e5)(22.5,2.45e5)(20,2.33e5)(17.5,2.28e5)(15,2.28e5)(12.5,2.33e5)(10,2.33e5)(7.5,2.33e5)(5,2.33e5)};
\addplot[sFG] coordinates {(80,3.8e5)(77.5,3.95e5)(75,4.1e5)(72.5,4.3e5)(70,4.5e5)(67.5,4.7e5)(65,5.1e5)(62.5,5.4e5)(60,5.8e5)(57.5,6.2e5)(55,6.6e5)(52.5,7.2e5)(50,7.8e5)(47.5,8.8e5)(46,9.8e5)(45,1.22e6)(44.5,2.1e6)(44,4.1e6)(43.5,6.4e6)(43,1.0e7)(42,1.33e7)(40,1.46e7)(37.5,1.52e7)(35,1.56e7)(32.5,1.58e7)(30,1.6e7)(27.5,1.62e7)(25,1.66e7)(22.5,1.66e7)(20,1.7e7)(17.5,1.7e7)(15,1.7e7)(12.5,1.72e7)(10,1.74e7)(7.5,1.74e7)(5,1.74e7)};
\addplot[sOG] coordinates {(80,2.6e5)(77.5,2.6e5)(75,2.65e5)(72.5,2.65e5)(70,2.7e5)(67.5,2.8e5)(65,2.8e5)(62.5,2.85e5)(60,2.9e5)(57.5,2.95e5)(55,3.0e5)(52.5,3.1e5)(50,3.25e5)(47.5,3.45e5)(46,3.8e5)(45,4.5e5)(44.5,6.3e5)(44,9.2e5)(43.5,1.1e6)(43,1.15e6)(42,1.1e6)(40,9.6e5)(37.5,7.8e5)(35,6.3e5)(32.5,5.2e5)(30,4.5e5)(27.5,4.05e5)(25,3.8e5)(22.5,3.6e5)(20,3.55e5)(17.5,3.55e5)(15,3.6e5)(12.5,3.7e5)(10,3.8e5)(7.5,3.9e5)(5,3.95e5)};
\addplot[sFR] coordinates {(80,1.1e5)(77.5,1.12e5)(75,1.15e5)(72.5,1.17e5)(70,1.2e5)(67.5,1.23e5)(65,1.26e5)(62.5,1.29e5)(60,1.32e5)(57.5,1.34e5)(55,1.38e5)(52.5,1.4e5)(50,1.47e5)(47.5,1.53e5)(46,1.6e5)(45,1.86e5)(44.5,3.6e5)(44,6.3e5)(43.5,9.2e5)(43,1.15e6)(42,1.7e6)(40,2.4e6)(37.5,2.95e6)(35,3.4e6)(32.5,3.7e6)(30,4.0e6)(27.5,4.3e6)(25,4.5e6)(22.5,4.7e6)(20,4.8e6)(17.5,4.95e6)(15,5.15e6)(12.5,5.3e6)(10,5.4e6)(7.5,5.5e6)(5,5.6e6)};
\addplot[sOR] coordinates {(80,2.05e4)(77.5,2.15e4)(75,2.2e4)(72.5,2.25e4)(70,2.3e4)(67.5,2.35e4)(65,2.4e4)(62.5,2.45e4)(60,2.5e4)(57.5,2.56e4)(55,2.6e4)(52.5,2.67e4)(50,2.7e4)(47.5,2.8e4)(46,3.0e4)(45.5,3.6e4)(45,5.0e4)(44.5,7.7e4)(44,1.15e5)(43,1.55e5)(42,1.95e5)(40,2.33e5)(37.5,2.6e5)(35,2.7e5)(32.5,2.8e5)(30,2.7e5)(27.5,2.65e5)(25,2.6e5)(22.5,2.6e5)(20,2.65e5)(17.5,2.7e5)(15,2.8e5)(12.5,2.85e5)(10,2.9e5)(7.5,2.95e5)(5,3.0e5)};
\end{semilogyaxis}
\begin{semilogyaxis}[mysegR, mypC, at={(430.5pt,45pt)}]
\addplot[sFBi] coordinates {(0,1.9e7)(1,1.9e7)(2,1.9e7)(3,1.9e7)(4,1.9e7)};
\addplot[sOBi] coordinates {(0,3.2e5)(1,2.7e5)(2,2.6e5)(3,2.5e5)(4,2.4e5)};
\addplot[sFGi] coordinates {(0,1.78e7)(1,1.78e7)(2,1.78e7)(3,1.78e7)(4,1.78e7)};
\addplot[sOGi] coordinates {(0,5.0e5)(1,3.7e5)(2,3.7e5)(3,3.8e5)(4,3.8e5)};
\addplot[sFRi] coordinates {(0,5.6e6)(1,5.6e6)(2,5.6e6)(3,5.6e6)(4,5.6e6)};
\addplot[sORi] coordinates {(0,3.3e5)(1,3.2e5)(2,3.2e5)(3,3.3e5)(4,3.3e5)};
\end{semilogyaxis}
%%%%%%%%%%%%%%%% TEXT
\node[font=\bfseries\fontsize{11}{13}\selectfont] at (66pt,630pt) {\textit{G'},\ \ \textit{G"}\ \ /\ \ Pa};
\node[font=\bfseries\fontsize{11.5}{13}\selectfont] at (263.5pt,599pt) {PDMA-C17.3M};
\node[font=\bfseries\fontsize{11.5}{13}\selectfont] at (253.5pt,415pt) {PDMA-C18A};
\node[font=\bfseries\fontsize{11.5}{13}\selectfont] at (251.5pt,226pt) {PAAc-C18A};
\node[font=\fontsize{11.5}{13}\selectfont] at (46pt,20pt) {5\textsuperscript{o}C};
\node[font=\fontsize{11.5}{13}\selectfont] at (249pt,20pt) {80\textsuperscript{o}C};
\node[font=\fontsize{11.5}{13}\selectfont] at (447pt,18pt) {5\textsuperscript{o}C};
\node[font=\bfseries\fontsize{11.5}{13}\selectfont] at (158.5pt,7pt) {Temperature / \textsuperscript{o}C};
\end{tikzpicture}
\end{document}
